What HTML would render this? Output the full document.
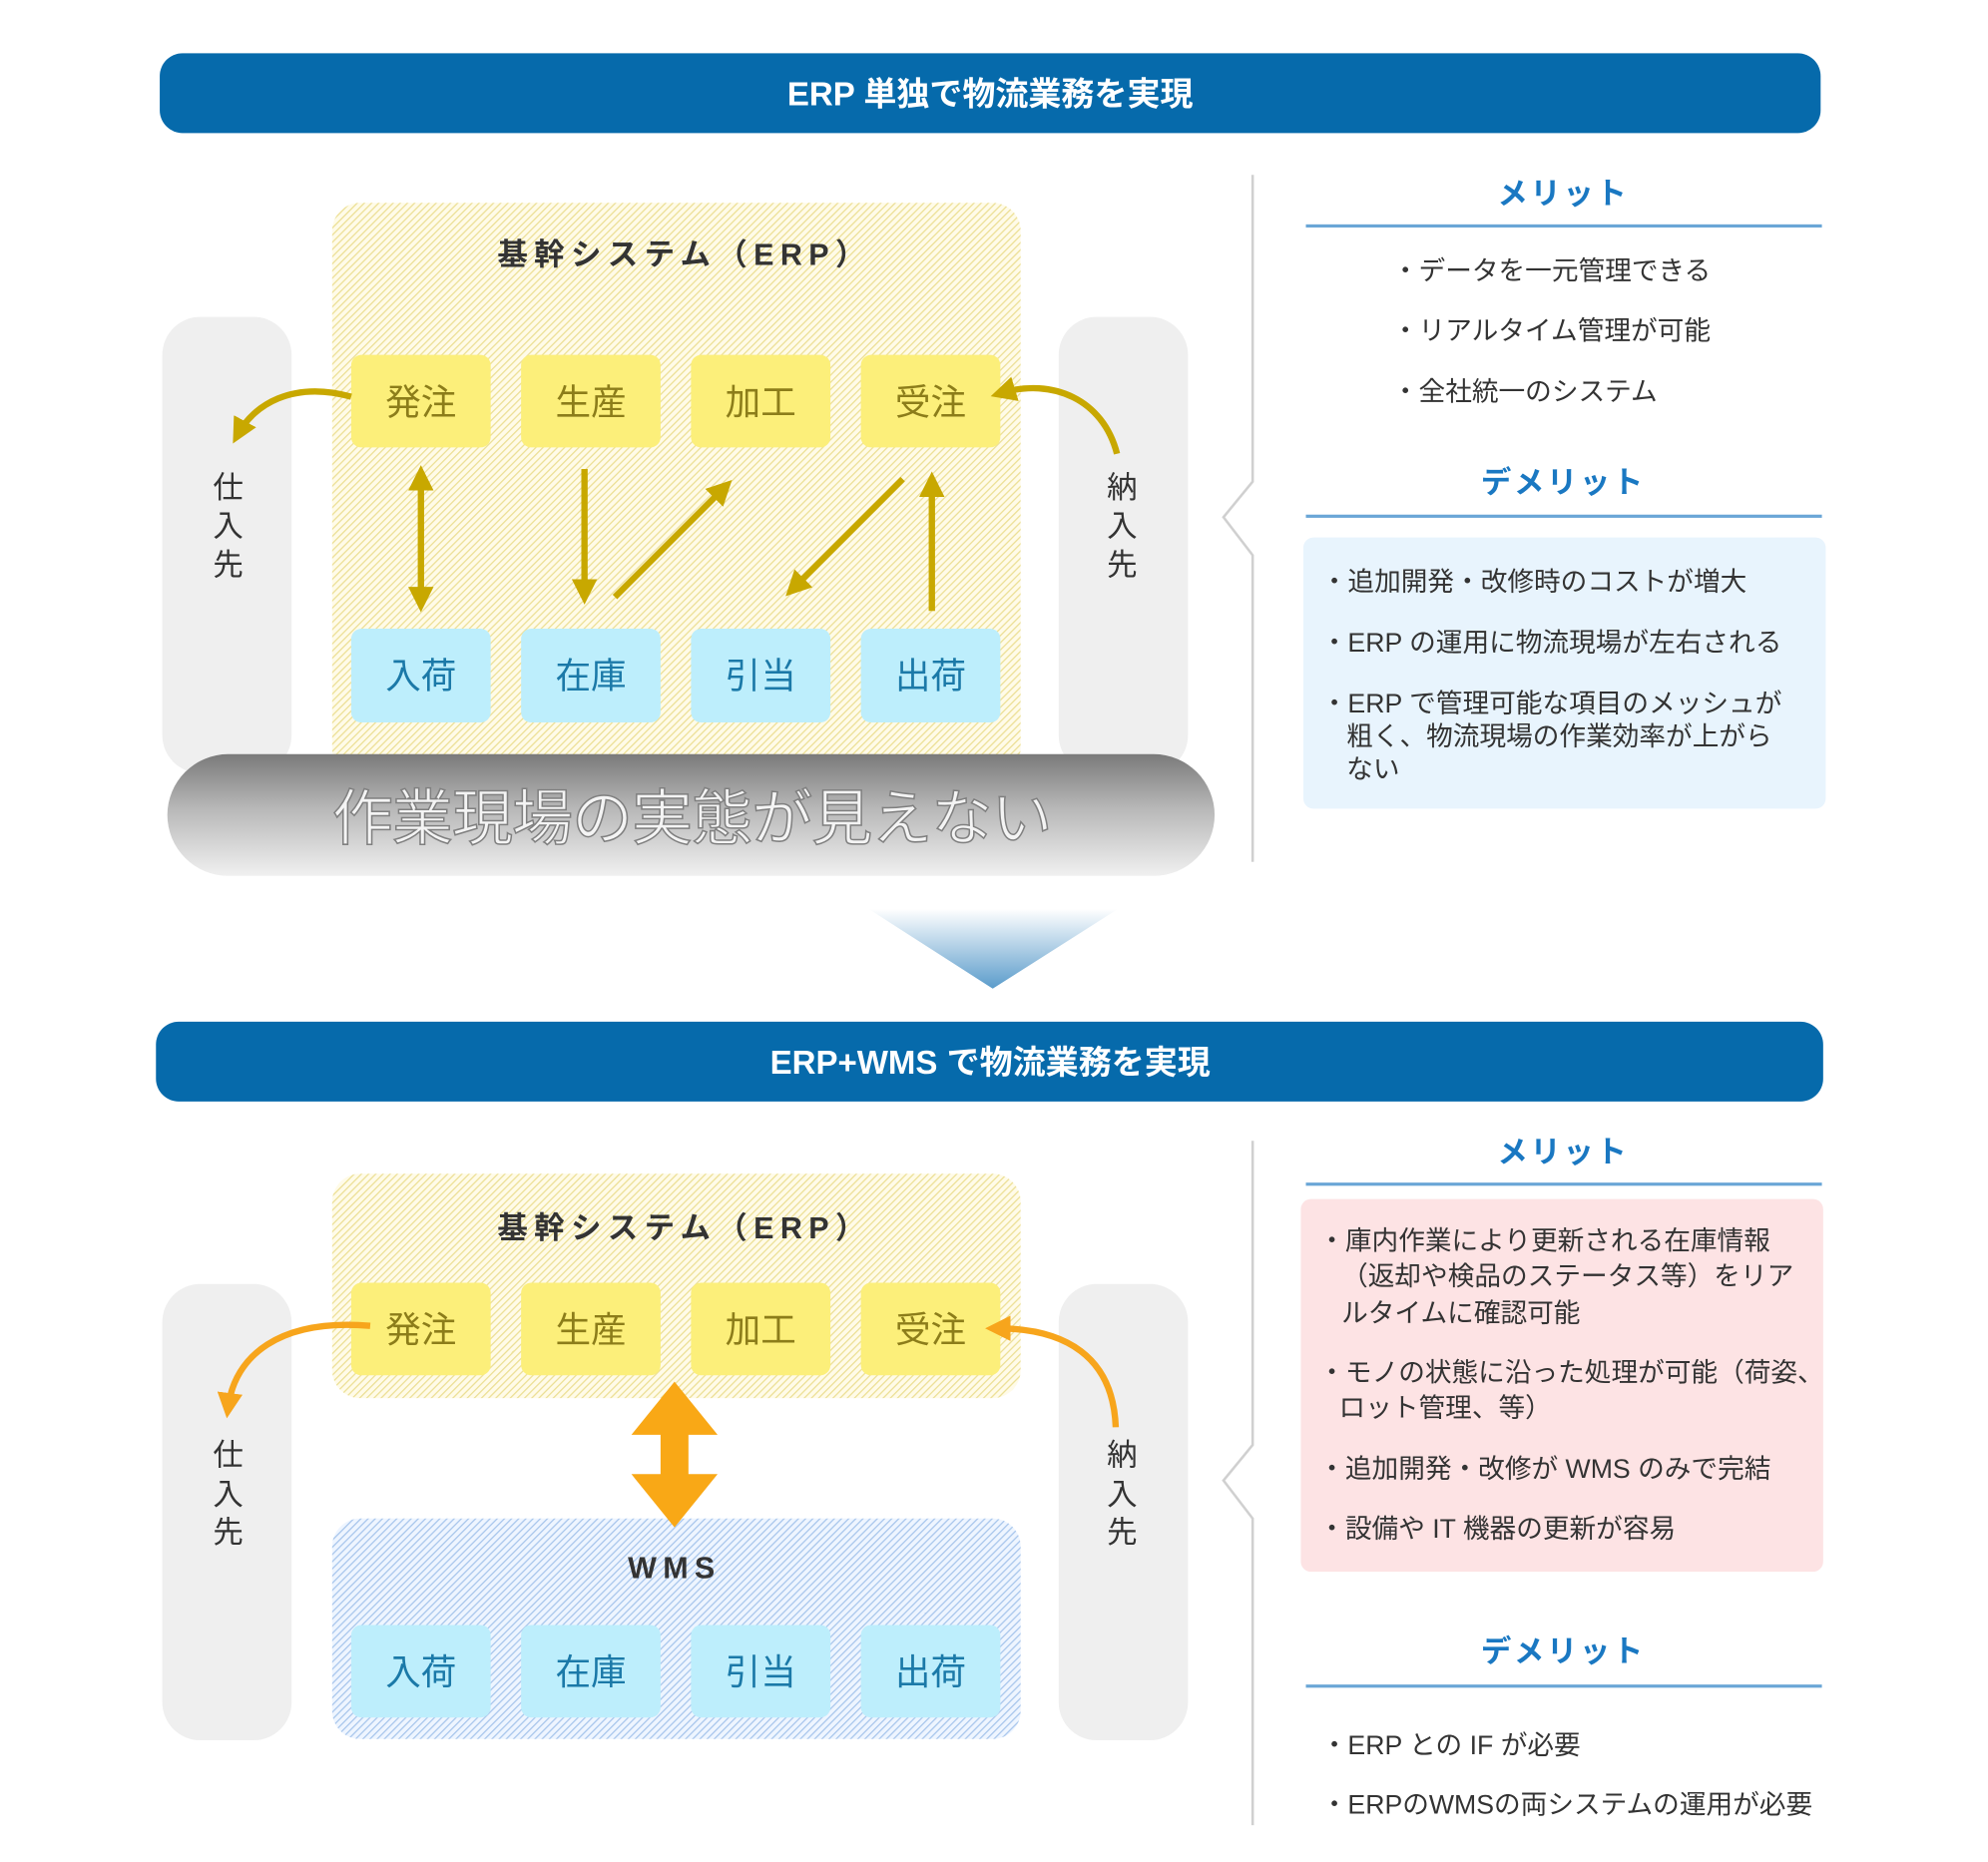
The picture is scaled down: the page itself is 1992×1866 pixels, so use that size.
<!DOCTYPE html>
<html><head><meta charset="utf-8"><style>
html,body{margin:0;padding:0;background:#fff;}
svg{display:block;}
text{font-family:"Liberation Sans","Noto Sans CJK JP",sans-serif;}
</style></head><body>
<svg width="1992" height="1866" viewBox="0 0 1568 1469" preserveAspectRatio="none" xmlns="http://www.w3.org/2000/svg">
<defs>
<pattern id="hy" width="4" height="4" patternUnits="userSpaceOnUse" patternTransform="rotate(45)">
<rect width="4" height="4" fill="#fffbe8"/><rect width="1" height="4" fill="#ecdf95"/></pattern>
<pattern id="hb" width="4" height="4" patternUnits="userSpaceOnUse" patternTransform="rotate(45)">
<rect width="4" height="4" fill="#eef5ff"/><rect width="1" height="4" fill="#a8c6ec"/></pattern>
<linearGradient id="cyl" x1="0" y1="0" x2="0" y2="1">
<stop offset="0" stop-color="#7a7a7a"/><stop offset="0.45" stop-color="#b8b8b8"/><stop offset="1" stop-color="#f0f0f0"/></linearGradient>
<linearGradient id="tri" x1="0" y1="0" x2="0" y2="1">
<stop offset="0" stop-color="#ffffff"/><stop offset="1" stop-color="#5b9ccb"/></linearGradient>
<marker id="ao" markerWidth="4" markerHeight="4" refX="2.2" refY="2" orient="auto" markerUnits="strokeWidth">
<path d="M0,0 L4,2 L0,4 Z" fill="#c8a800"/></marker>
<marker id="ao2" markerWidth="4" markerHeight="4" refX="2.2" refY="2" orient="auto-start-reverse" markerUnits="strokeWidth">
<path d="M0,0 L4,2 L0,4 Z" fill="#c8a800"/></marker>
<marker id="or" markerWidth="4" markerHeight="4" refX="2.2" refY="2" orient="auto" markerUnits="strokeWidth">
<path d="M0,0 L4,2 L0,4 Z" fill="#f7a51c"/></marker>
</defs>

<rect x="126" y="42" width="1310" height="63" rx="18" fill="#066aab"/>
<text x="781" y="83" font-size="26" font-weight="bold" fill="#fff" text-anchor="middle">ERP 単独で物流業務を実現</text>

<rect x="128" y="250" width="102" height="360" rx="30" fill="#efefef"/>
<rect x="835" y="250" width="102" height="360" rx="30" fill="#efefef"/>
<g font-size="24" fill="#333" text-anchor="middle">
<text x="180" y="393">仕</text><text x="180" y="423">入</text><text x="180" y="454">先</text>
<text x="885" y="393">納</text><text x="885" y="423">入</text><text x="885" y="454">先</text>
</g>

<rect x="262" y="160" width="543" height="452" rx="22" fill="url(#hy)"/>
<text x="540" y="209" font-size="24" font-weight="bold" fill="#333" text-anchor="middle" letter-spacing="5">基幹システム（ERP）</text>
<g fill="#fcef7a">
<rect x="277" y="280" width="110" height="73" rx="8"/><rect x="411" y="280" width="110" height="73" rx="8"/>
<rect x="545" y="280" width="110" height="73" rx="8"/><rect x="679" y="280" width="110" height="73" rx="8"/></g>
<g font-size="28" fill="#8c7d1a" text-anchor="middle">
<text x="332" y="327">発注</text><text x="466" y="327">生産</text><text x="600" y="327">加工</text><text x="734" y="327">受注</text></g>
<g fill="#bdeefc">
<rect x="277" y="496" width="110" height="74" rx="8"/><rect x="411" y="496" width="110" height="74" rx="8"/>
<rect x="545" y="496" width="110" height="74" rx="8"/><rect x="679" y="496" width="110" height="74" rx="8"/></g>
<g font-size="28" fill="#1b79a8" text-anchor="middle">
<text x="332" y="543">入荷</text><text x="466" y="543">在庫</text><text x="600" y="543">引当</text><text x="734" y="543">出荷</text></g>

<g stroke="#c8a800" stroke-width="5" fill="none">
<path d="M277,313 C230,300 200,320 188,342" marker-end="url(#ao)"/>
<path d="M881,358 C870,315 830,298 790,310" marker-end="url(#ao)"/>
<path d="M332,376 L332,474" marker-start="url(#ao2)" marker-end="url(#ao)"/>
<path d="M461,370 L461,468" marker-end="url(#ao)"/>
<path d="M485,471 L571,385" marker-end="url(#ao)"/>
<path d="M712,378 L626,464" marker-end="url(#ao)"/>
<path d="M735,482 L735,381" marker-end="url(#ao)"/>
</g>

<rect x="132" y="595" width="826" height="96" rx="48" fill="url(#cyl)"/>
<text x="546" y="662" font-size="48" fill="#f4f4f4" stroke="#808080" stroke-width="1.2" text-anchor="middle" textLength="568">作業現場の実態が見えない</text>

<path d="M988,138 L988,380 L965,408 L988,438 L988,680" stroke="#d0d0d0" stroke-width="2" fill="none"/>

<text x="1233" y="161" font-size="24" font-weight="bold" fill="#1a78c2" text-anchor="middle" letter-spacing="2">メリット</text>
<rect x="1030" y="177" width="407" height="2.5" fill="#6aa6d6"/>
<g font-size="21" fill="#333">
<text x="1098" y="221">・データを一元管理できる</text>
<text x="1098" y="268">・リアルタイム管理が可能</text>
<text x="1098" y="316">・全社統一のシステム</text></g>
<text x="1233" y="389" font-size="24" font-weight="bold" fill="#1a78c2" text-anchor="middle" letter-spacing="2">デメリット</text>
<rect x="1030" y="406" width="407" height="2.5" fill="#6aa6d6"/>
<rect x="1028" y="424" width="412" height="214" rx="8" fill="#e8f4fd"/>
<g font-size="21" fill="#333">
<text x="1042" y="466">・追加開発・改修時のコストが増大</text>
<text x="1042" y="514">・ERP の運用に物流現場が左右される</text>
<text x="1042" y="562">・ERP で管理可能な項目のメッシュが</text>
<text x="1062" y="588">粗く、物流現場の作業効率が上がら</text>
<text x="1062" y="614">ない</text></g>

<path d="M685,717 L882,717 L783,780 Z" fill="url(#tri)"/>

<rect x="123" y="806" width="1315" height="63" rx="18" fill="#066aab"/>
<text x="781" y="847" font-size="26" font-weight="bold" fill="#fff" text-anchor="middle">ERP+WMS で物流業務を実現</text>

<rect x="128" y="1013" width="102" height="360" rx="30" fill="#efefef"/>
<rect x="835" y="1013" width="102" height="360" rx="30" fill="#efefef"/>
<g font-size="24" fill="#333" text-anchor="middle">
<text x="180" y="1156">仕</text><text x="180" y="1187">入</text><text x="180" y="1217">先</text>
<text x="885" y="1156">納</text><text x="885" y="1187">入</text><text x="885" y="1217">先</text>
</g>

<rect x="262" y="926" width="543" height="177" rx="22" fill="url(#hy)"/>
<text x="540" y="977" font-size="24" font-weight="bold" fill="#333" text-anchor="middle" letter-spacing="5">基幹システム（ERP）</text>
<g fill="#fcef7a">
<rect x="277" y="1012" width="110" height="73" rx="8"/><rect x="411" y="1012" width="110" height="73" rx="8"/>
<rect x="545" y="1012" width="110" height="73" rx="8"/><rect x="679" y="1012" width="110" height="73" rx="8"/></g>
<g font-size="28" fill="#8c7d1a" text-anchor="middle">
<text x="332" y="1059">発注</text><text x="466" y="1059">生産</text><text x="600" y="1059">加工</text><text x="734" y="1059">受注</text></g>

<rect x="262" y="1198" width="543" height="174" rx="22" fill="url(#hb)"/>
<text x="532" y="1245" font-size="24" font-weight="bold" fill="#333" text-anchor="middle" letter-spacing="5">WMS</text>
<g fill="#bdeefc">
<rect x="277" y="1282" width="110" height="73" rx="8"/><rect x="411" y="1282" width="110" height="73" rx="8"/>
<rect x="545" y="1282" width="110" height="73" rx="8"/><rect x="679" y="1282" width="110" height="73" rx="8"/></g>
<g font-size="28" fill="#1b79a8" text-anchor="middle">
<text x="332" y="1329">入荷</text><text x="466" y="1329">在庫</text><text x="600" y="1329">引当</text><text x="734" y="1329">出荷</text></g>

<g stroke="#f7a51c" stroke-width="5" fill="none">
<path d="M292,1046 C220,1040 185,1070 180,1110" marker-end="url(#or)"/>
<path d="M880,1126 C878,1070 840,1048 786,1048" marker-end="url(#or)"/>
</g>
<path d="M532,1090 L566,1132 L543,1132 L543,1163 L566,1163 L532,1205 L498,1163 L521,1163 L521,1132 L498,1132 Z" fill="#f9a816"/>

<path d="M988,900 L988,1140 L965,1168 L988,1198 L988,1440" stroke="#d0d0d0" stroke-width="2" fill="none"/>

<text x="1233" y="917" font-size="24" font-weight="bold" fill="#1a78c2" text-anchor="middle" letter-spacing="2">メリット</text>
<rect x="1030" y="933" width="407" height="2.5" fill="#6aa6d6"/>
<rect x="1026" y="946" width="412" height="294" rx="8" fill="#fde3e4"/>
<g font-size="21" fill="#333">
<text x="1040" y="986">・庫内作業により更新される在庫情報</text>
<text x="1058" y="1014">（返却や検品のステータス等）をリア</text>
<text x="1058" y="1043">ルタイムに確認可能</text>
<text x="1040" y="1090">・モノの状態に沿った処理が可能（荷姿、</text>
<text x="1056" y="1118">ロット管理、等）</text>
<text x="1040" y="1166">・追加開発・改修が WMS のみで完結</text>
<text x="1040" y="1213">・設備や IT 機器の更新が容易</text></g>
<text x="1233" y="1311" font-size="24" font-weight="bold" fill="#1a78c2" text-anchor="middle" letter-spacing="2">デメリット</text>
<rect x="1030" y="1329" width="407" height="2.5" fill="#6aa6d6"/>
<g font-size="21" fill="#333">
<text x="1042" y="1384">・ERP との IF が必要</text>
<text x="1042" y="1431">・ERPのWMSの両システムの運用が必要</text></g>
</svg>
</body></html>
